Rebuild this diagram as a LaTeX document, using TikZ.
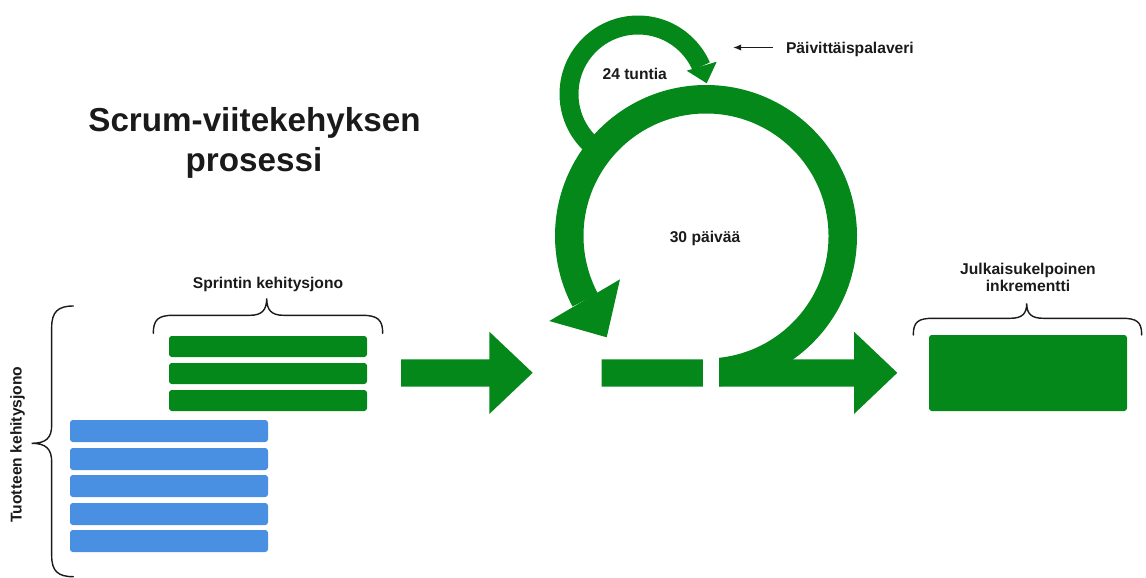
\documentclass[tikz,border=0pt]{standalone}
\usepackage{fontspec}
\setmainfont{Liberation Sans}
\usetikzlibrary{arrows.meta}
\definecolor{scrumgreen}{RGB}{5,136,26}
\definecolor{scrumblue}{RGB}{74,144,226}
\definecolor{txt}{RGB}{26,26,26}
\newcommand{\titlefnt}{\fontsize{18.9pt}{22pt}\selectfont\bfseries}
\newcommand{\lblfnt}{\fontsize{8.9pt}{10pt}\selectfont\bfseries}
\tikzset{
  gbar/.style={fill=scrumgreen, rounded corners=1.6pt},
  bbar/.style={fill=scrumblue, rounded corners=1.6pt},
  brace/.style={draw=txt, line width=0.8pt, line cap=round},
  lbl/.style={font=\lblfnt, text=txt, inner sep=0pt},
  ttl/.style={font=\titlefnt, text=txt, inner sep=0pt},
  bigarrow/.style={fill=scrumgreen},
  ring/.style={draw=scrumgreen, line width=0.57cm},
  smallring/.style={draw=scrumgreen, line width=0.38cm},
  pointer/.style={draw=txt, line width=0.6pt, -{Latex[length=4.5pt,width=3.6pt]}},
}
\begin{document}
\begin{tikzpicture}[x=0.02cm,y=-0.02cm]
\useasboundingbox (0,0) rectangle (1146,578);

% title
\node[ttl, anchor=base] (title1) at (254.5,131.7) {Scrum-viitekehyksen};
\node[ttl, anchor=base] (title2) at (254,171.7) {prosessi};

% product backlog (blue)
\foreach \y in {420,448,475,503,530}
  \path[bbar] (70,\y) rectangle (268,\y+22);
% sprint backlog (green)
\foreach \y in {336,363,390}
  \path[gbar] (169,\y) rectangle (367,\y+21);

% braces
\draw[brace] (153.3,333.3) .. controls (153.3,320) and (158,315.3) .. (173,315.3)
  -- (250,315.3) .. controls (262,315.3) and (266.7,310) .. (266.7,298.3)
  .. controls (266.7,310) and (271.4,315.3) .. (283.4,315.3)
  -- (362,315.3) .. controls (378,315.3) and (382.7,320) .. (382.7,333.3);
\draw[brace] (913.3,335) .. controls (913.3,322) and (918,318.3) .. (933,318.3)
  -- (1010,318.3) .. controls (1022,318.3) and (1026.7,314) .. (1026.7,303.3)
  .. controls (1026.7,314) and (1031.4,318.3) .. (1043.4,318.3)
  -- (1122,318.3) .. controls (1137,318.3) and (1141.7,322) .. (1141.7,335);
\draw[brace] (73.3,306) .. controls (58,306) and (51.7,312) .. (51.7,327)
  -- (51.7,425) .. controls (51.7,438) and (46,443.3) .. (31.7,443.3)
  .. controls (46,443.3) and (51.7,449) .. (51.7,462)
  -- (51.7,556) .. controls (51.7,571) and (58,576.7) .. (73.3,576.7);

% labels
\node[lbl, anchor=base] (sprintlbl) at (268,288.3) {Sprintin kehitysjono};
\node[lbl, anchor=base, rotate=90] (productlbl) at (21.7,444.5) {Tuotteen kehitysjono};
\node[lbl, anchor=base] (incr1) at (1028,274) {Julkaisukelpoinen};
\node[lbl, anchor=base] (incr2) at (1028,291) {inkrementti};

% increment box
\path[gbar] (929,335) rectangle (1127,411);

% left big arrow
\path[bigarrow] (401,359.3) -- (489.3,359.3) -- (489.3,331.7) -- (532.7,372.8)
  -- (489.3,414) -- (489.3,386.7) -- (401,386.7) -- cycle;

% bar with right arrow
\path[bigarrow] (601.7,359.3) -- (854,359.3) -- (854,331.7) -- (897.3,372.8)
  -- (854,414) -- (854,386.7) -- (601.7,386.7) -- cycle;

% small 24h loop
\draw[smallring] (638,94) ++(130:69) arc[start angle=130, end angle=336.4, radius=69];
\path[bigarrow] (686.7,70.7) -- (716.7,61.7) -- (706.7,83.3) -- cycle;

% big 30-day loop
\draw[ring] (706,236) ++(88:136.75) arc[start angle=88, end angle=-207.9, radius=136.75];
\path[bigarrow] (549.3,321) -- (620,279.3) -- (606.7,337.3) -- cycle;

% gap in the bar
\path[fill=white] (702.7,352) rectangle (719.3,392);

% loop labels
\node[lbl, anchor=base] (hours) at (634.7,79.3) {24 tuntia};
\node[lbl, anchor=base] (days) at (705,242.3) {30 päivää};
\node[lbl, anchor=base west] (daily) at (785.7,53.3) {Päivittäispalaveri};
\coordinate (dailytip) at (733.3,47.5);
\path (daily.west |- dailytip) ++(-13,0) coordinate (dailytail);
\draw[pointer] (dailytail) -- (dailytip);
\end{tikzpicture}
\end{document}
